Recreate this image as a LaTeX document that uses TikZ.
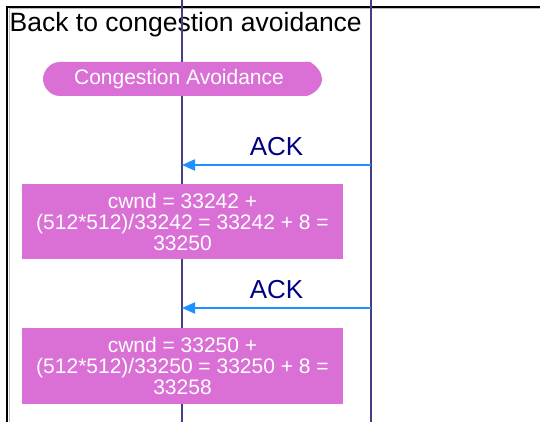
\documentclass[tikz,border=0pt]{standalone}
\usepackage{fontspec}
\setmainfont{Liberation Sans}
\usetikzlibrary{arrows.meta}
\definecolor{orchidc}{HTML}{DA70D6}
\definecolor{lifec}{HTML}{483D8B}
\definecolor{ackc}{HTML}{1E90FF}
\definecolor{navyc}{HTML}{000080}
\tikzset{
  lifeline/.style={draw=lifec, line width=1.5pt},
  framebox/.style={draw=black, line width=2pt},
  notebox/.style={fill=orchidc, text=white, align=center, inner sep=0pt,
    minimum width=321pt, font=\fontsize{21}{21}\selectfont},
  ackarrow/.style={draw=ackc, line width=2pt, -{Triangle[length=13pt,width=11pt]}},
  acklabel/.style={text=navyc, font=\fontsize{26}{30}\selectfont, inner sep=0pt},
}
\begin{document}
\begin{tikzpicture}[x=1pt,y=-1pt]
\useasboundingbox (0,0) rectangle (540,422);
% frame
\draw[gray!50, line width=1pt] (9,422) -- (9,9) -- (540,9);
\draw[framebox] (7,422) -- (7,7) -- (540,7);
\node[anchor=base west, inner sep=0pt, font=\fontsize{26.5}{30}\selectfont] (title) at (9.5,32) {Back to congestion avoidance};
% lifelines
\coordinate (l1t) at (182,0);
\coordinate (l1b) at (182,422);
\coordinate (l2t) at (371,0);
\coordinate (l2b) at (371,422);
\draw[lifeline] (l1t) -- (l1b);
\draw[lifeline] (l2t) -- (l2b);
% state pill
\fill[orchidc] (60,62) -- (310,62) .. controls (317,66) and (322,73) .. (322,79)
  .. controls (322,86) and (316,93) .. (307,96) -- (60,96)
  .. controls (49,96) and (43,86) .. (43,79) .. controls (43,72) and (49,62) .. (60,62) -- cycle;
\node[text=white, inner sep=0pt, font=\fontsize{21}{24}\selectfont] (ca) at (179,79) {Congestion Avoidance};
% first ACK
\coordinate (a1s) at (371,165);
\coordinate (a1e) at (182,165);
\draw[ackarrow] (a1s) -- (a1e);
\node[acklabel] (ack1) at (276.5,147) {ACK};
\node[notebox, minimum height=75pt] (b1) at (182.5,221.5) {cwnd = 33242 +\\(512*512)/33242 = 33242 + 8 =\\33250};
% second ACK
\coordinate (a2s) at (371,308);
\coordinate (a2e) at (182,308);
\draw[ackarrow] (a2s) -- (a2e);
\node[acklabel] (ack2) at (276.5,289.5) {ACK};
\node[notebox, minimum height=76pt] (b2) at (182.5,366) {cwnd = 33250 +\\(512*512)/33250 = 33250 + 8 =\\33258};
\end{tikzpicture}
\end{document}
